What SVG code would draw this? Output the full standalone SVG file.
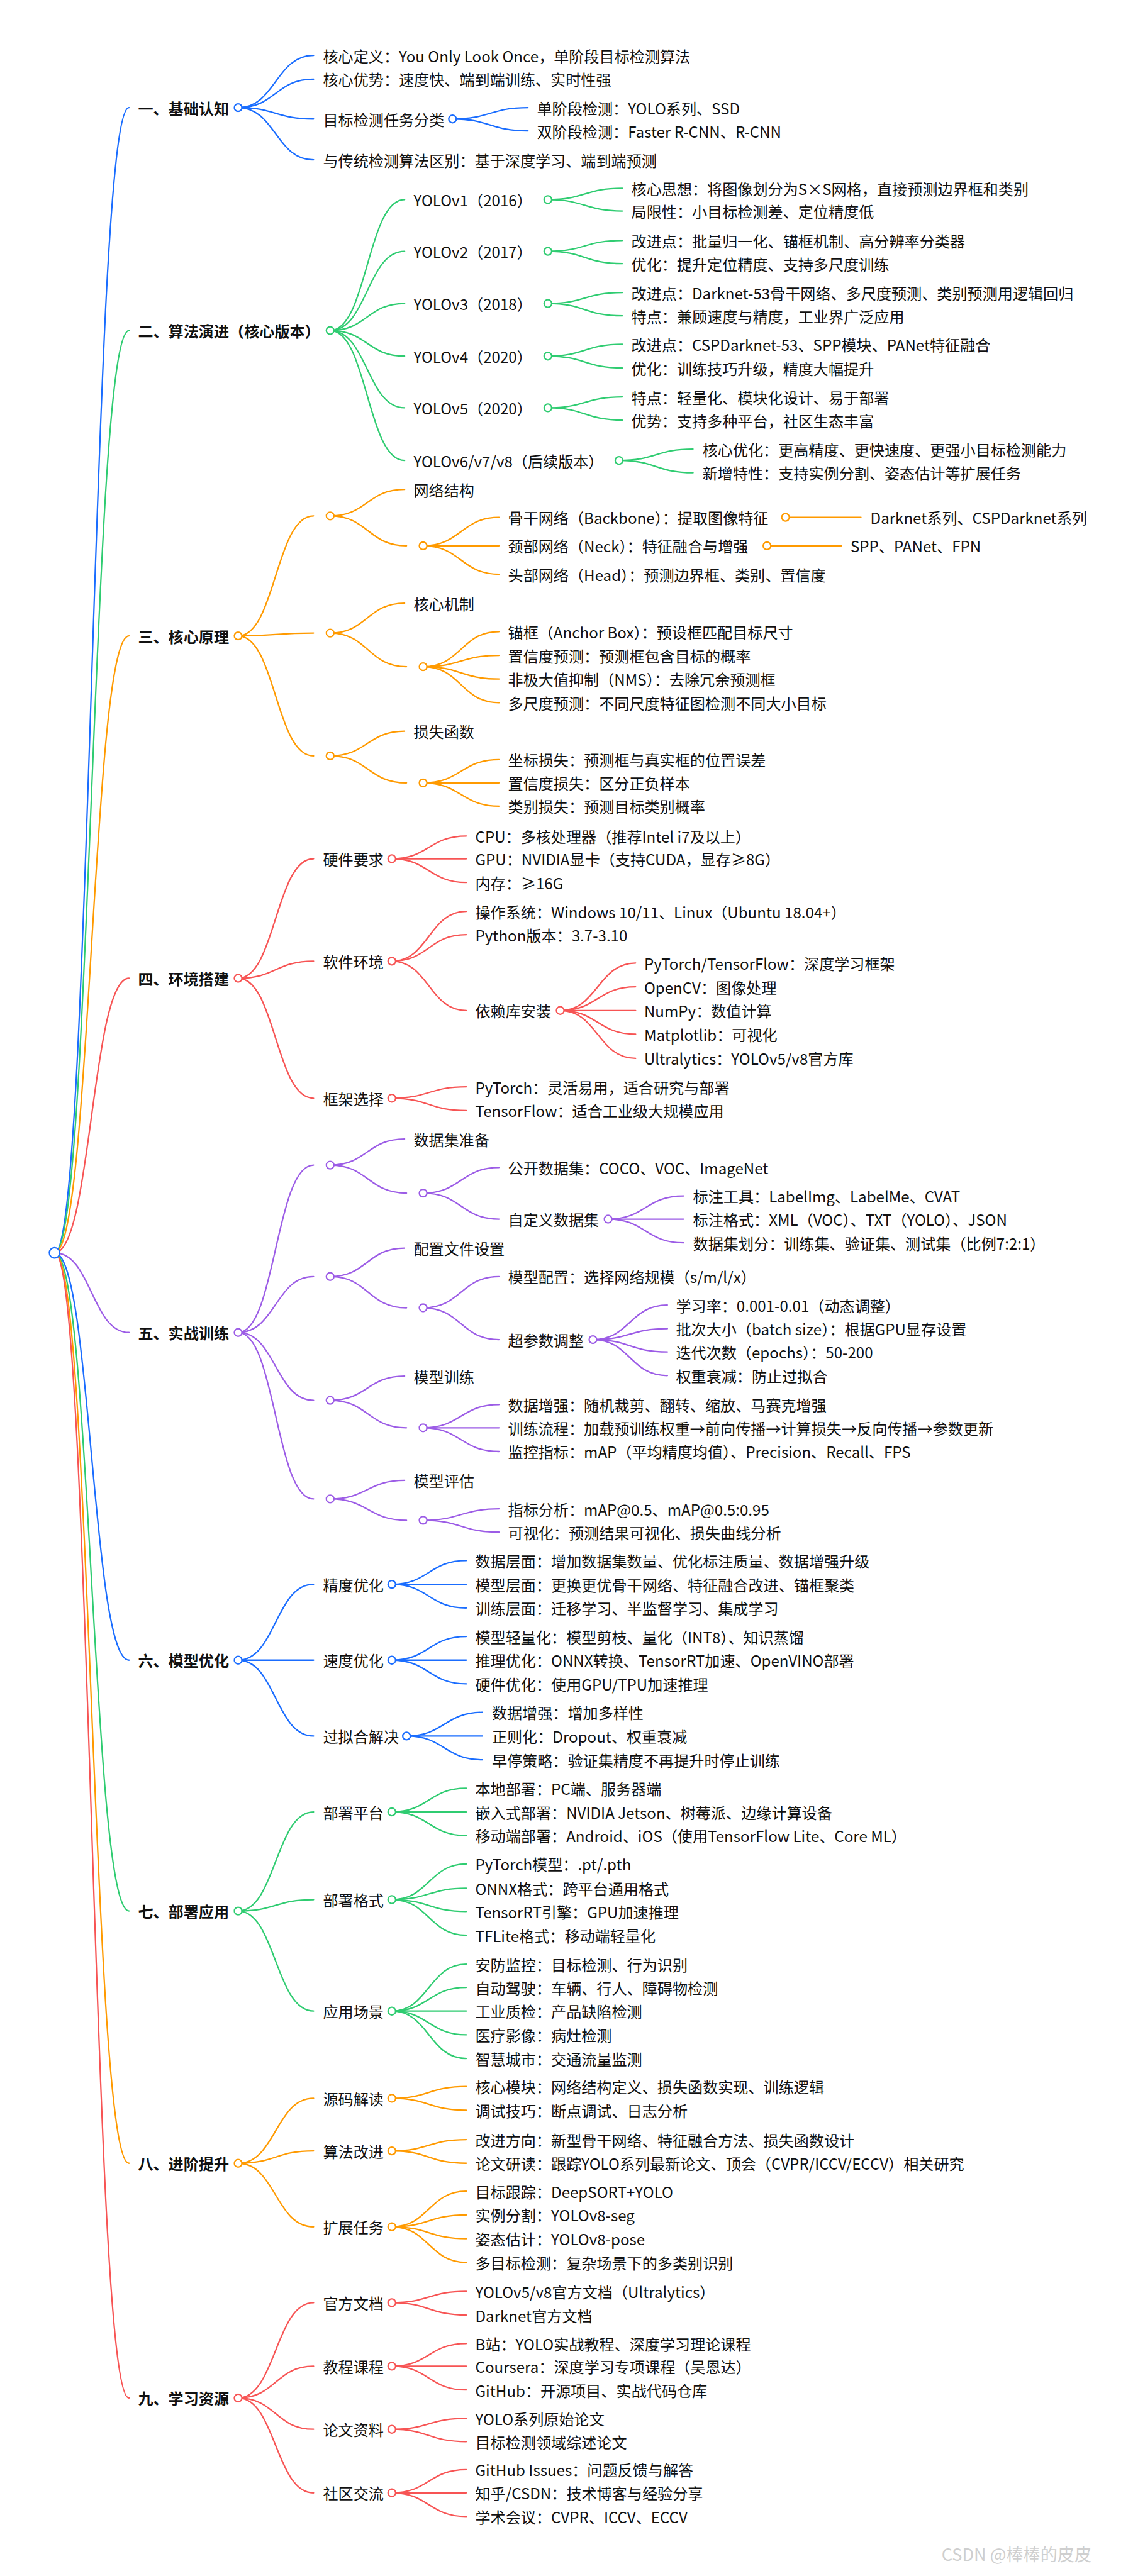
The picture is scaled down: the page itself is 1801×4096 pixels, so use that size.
<svg xmlns="http://www.w3.org/2000/svg" width="1801" height="4096" viewBox="0 0 1801 4096">
<style>
.t{font-family:"Noto Sans CJK SC","Noto Sans",sans-serif;font-size:32px;fill:#111;dominant-baseline:central}
.h{font-weight:bold}
.l{fill:none;stroke-width:3;stroke-linecap:round}
.c{fill:#fff;stroke-width:3}
.b{stroke:#1a6dff}.g{stroke:#2fcc71}.o{stroke:#ff9a00}.r{stroke:#f75454}.p{stroke:#9c5ce6}
.wm{font-family:"Noto Sans CJK SC","Noto Sans",sans-serif;font-size:36px;fill:#cfcfcf}
</style>
<rect width="1801" height="4096" fill="#fff"/>
<g transform="scale(0.754)">
<g id="connectors">
<!-- root links -->
<path class="l b" d="M115 2642C193 2642 193 227 272 227"/>
<path class="l g" d="M115 2642C193 2642 193 697 272 697"/>
<path class="l o" d="M115 2642C193 2642 193 1341 272 1341"/>
<path class="l r" d="M115 2642C193 2642 193 2063 272 2063"/>
<path class="l p" d="M115 2642C193 2642 193 2810 272 2810"/>
<path class="l b" d="M115 2642C193 2642 193 3501 272 3501"/>
<path class="l g" d="M115 2642C193 2642 193 4030 272 4030"/>
<path class="l o" d="M115 2642C193 2642 193 4562 272 4562"/>
<path class="l r" d="M115 2642C193 2642 193 5057 272 5057"/>
<!-- branch 1 -->
<path class="l b" d="M502 227C581 227 581 117 661 117"/>
<path class="l b" d="M502 227C581 227 581 167 661 167"/>
<path class="l b" d="M502 227C581 227 581 251 661 251"/>
<path class="l b" d="M502 227C581 227 581 337 661 337"/>
<path class="l b" d="M954 251C1033 251 1033 227 1113 227"/>
<path class="l b" d="M954 251C1033 251 1033 276 1113 276"/>
<!-- branch 2 -->
<path class="l g" d="M696 697C774 697 774 421 853 421"/>
<path class="l g" d="M696 697C774 697 774 530 853 530"/>
<path class="l g" d="M696 697C774 697 774 640 853 640"/>
<path class="l g" d="M696 697C774 697 774 751 853 751"/>
<path class="l g" d="M696 697C774 697 774 860 853 860"/>
<path class="l g" d="M696 697C774 697 774 971 853 971"/>
<path class="l g" d="M1155 421C1233 421 1233 397 1312 397"/>
<path class="l g" d="M1155 421C1233 421 1233 445 1312 445"/>
<path class="l g" d="M1155 530C1233 530 1233 507 1312 507"/>
<path class="l g" d="M1155 530C1233 530 1233 556 1312 556"/>
<path class="l g" d="M1155 640C1233 640 1233 617 1312 617"/>
<path class="l g" d="M1155 640C1233 640 1233 666 1312 666"/>
<path class="l g" d="M1155 751C1233 751 1233 726 1312 726"/>
<path class="l g" d="M1155 751C1233 751 1233 776 1312 776"/>
<path class="l g" d="M1155 860C1233 860 1233 837 1312 837"/>
<path class="l g" d="M1155 860C1233 860 1233 886 1312 886"/>
<path class="l g" d="M1305 971C1383 971 1383 947 1461 947"/>
<path class="l g" d="M1305 971C1383 971 1383 997 1461 997"/>
<!-- branch 3 -->
<path class="l o" d="M502 1341C581 1341 581 1088 661 1088"/>
<path class="l o" d="M502 1341C581 1341 581 1335 661 1335"/>
<path class="l o" d="M502 1341C581 1341 581 1594 661 1594"/>
<path class="l o" d="M696 1088C774 1088 774 1032 853 1032"/>
<path class="l o" d="M696 1088C776 1088 776 1151 857 1151"/>
<path class="l o" d="M892 1151C972 1151 972 1091 1052 1091"/>
<path class="l o" d="M892 1151C972 1151 972 1151 1052 1151"/>
<path class="l o" d="M892 1151C972 1151 972 1211 1052 1211"/>
<path class="l o" d="M1656 1091L1815 1091"/>
<path class="l o" d="M1617 1151L1774 1151"/>
<path class="l o" d="M696 1335C774 1335 774 1272 853 1272"/>
<path class="l o" d="M696 1335C776 1335 776 1406 857 1406"/>
<path class="l o" d="M892 1406C972 1406 972 1332 1052 1332"/>
<path class="l o" d="M892 1406C972 1406 972 1382 1052 1382"/>
<path class="l o" d="M892 1406C972 1406 972 1432 1052 1432"/>
<path class="l o" d="M892 1406C972 1406 972 1482 1052 1482"/>
<path class="l o" d="M696 1594C774 1594 774 1542 853 1542"/>
<path class="l o" d="M696 1594C776 1594 776 1651 857 1651"/>
<path class="l o" d="M892 1651C972 1651 972 1602 1052 1602"/>
<path class="l o" d="M892 1651C972 1651 972 1651 1052 1651"/>
<path class="l o" d="M892 1651C972 1651 972 1700 1052 1700"/>
<!-- branch 4 -->
<path class="l r" d="M502 2063C581 2063 581 1811 661 1811"/>
<path class="l r" d="M502 2063C581 2063 581 2027 661 2027"/>
<path class="l r" d="M502 2063C581 2063 581 2316 661 2316"/>
<path class="l r" d="M826 1811C904 1811 904 1763 983 1763"/>
<path class="l r" d="M826 1811C904 1811 904 1811 983 1811"/>
<path class="l r" d="M826 1811C904 1811 904 1861 983 1861"/>
<path class="l r" d="M826 2027C904 2027 904 1922 983 1922"/>
<path class="l r" d="M826 2027C904 2027 904 1971 983 1971"/>
<path class="l r" d="M826 2027C904 2027 904 2131 983 2131"/>
<path class="l r" d="M1181 2131C1260 2131 1260 2031 1340 2031"/>
<path class="l r" d="M1181 2131C1260 2131 1260 2081 1340 2081"/>
<path class="l r" d="M1181 2131C1260 2131 1260 2131 1340 2131"/>
<path class="l r" d="M1181 2131C1260 2131 1260 2181 1340 2181"/>
<path class="l r" d="M1181 2131C1260 2131 1260 2232 1340 2232"/>
<path class="l r" d="M826 2316C904 2316 904 2292 983 2292"/>
<path class="l r" d="M826 2316C904 2316 904 2342 983 2342"/>
<!-- branch 5 -->
<path class="l p" d="M502 2810C581 2810 581 2457 661 2457"/>
<path class="l p" d="M502 2810C581 2810 581 2692 661 2692"/>
<path class="l p" d="M502 2810C581 2810 581 2953 661 2953"/>
<path class="l p" d="M502 2810C581 2810 581 3161 661 3161"/>
<path class="l p" d="M696 2457C774 2457 774 2402 853 2402"/>
<path class="l p" d="M696 2457C776 2457 776 2516 857 2516"/>
<path class="l p" d="M892 2516C972 2516 972 2462 1052 2462"/>
<path class="l p" d="M892 2516C972 2516 972 2571 1052 2571"/>
<path class="l p" d="M1282 2571C1361 2571 1361 2522 1441 2522"/>
<path class="l p" d="M1282 2571C1361 2571 1361 2571 1441 2571"/>
<path class="l p" d="M1282 2571C1361 2571 1361 2621 1441 2621"/>
<path class="l p" d="M696 2692C774 2692 774 2632 853 2632"/>
<path class="l p" d="M696 2692C776 2692 776 2758 857 2758"/>
<path class="l p" d="M892 2758C972 2758 972 2692 1052 2692"/>
<path class="l p" d="M892 2758C972 2758 972 2825 1052 2825"/>
<path class="l p" d="M1250 2825C1328 2825 1328 2752 1407 2752"/>
<path class="l p" d="M1250 2825C1328 2825 1328 2802 1407 2802"/>
<path class="l p" d="M1250 2825C1328 2825 1328 2851 1407 2851"/>
<path class="l p" d="M1250 2825C1328 2825 1328 2901 1407 2901"/>
<path class="l p" d="M696 2953C774 2953 774 2902 853 2902"/>
<path class="l p" d="M696 2953C776 2953 776 3011 857 3011"/>
<path class="l p" d="M892 3011C972 3011 972 2962 1052 2962"/>
<path class="l p" d="M892 3011C972 3011 972 3011 1052 3011"/>
<path class="l p" d="M892 3011C972 3011 972 3061 1052 3061"/>
<path class="l p" d="M696 3161C774 3161 774 3122 853 3122"/>
<path class="l p" d="M696 3161C776 3161 776 3206 857 3206"/>
<path class="l p" d="M892 3206C972 3206 972 3182 1052 3182"/>
<path class="l p" d="M892 3206C972 3206 972 3231 1052 3231"/>
<!-- branch 6 -->
<path class="l b" d="M502 3501C581 3501 581 3341 661 3341"/>
<path class="l b" d="M502 3501C581 3501 581 3501 661 3501"/>
<path class="l b" d="M502 3501C581 3501 581 3661 661 3661"/>
<path class="l b" d="M826 3341C904 3341 904 3291 983 3291"/>
<path class="l b" d="M826 3341C904 3341 904 3341 983 3341"/>
<path class="l b" d="M826 3341C904 3341 904 3391 983 3391"/>
<path class="l b" d="M826 3501C904 3501 904 3451 983 3451"/>
<path class="l b" d="M826 3501C904 3501 904 3501 983 3501"/>
<path class="l b" d="M826 3501C904 3501 904 3551 983 3551"/>
<path class="l b" d="M857 3661C937 3661 937 3611 1017 3611"/>
<path class="l b" d="M857 3661C937 3661 937 3661 1017 3661"/>
<path class="l b" d="M857 3661C937 3661 937 3711 1017 3711"/>
<!-- branch 7 -->
<path class="l g" d="M502 4030C581 4030 581 3821 661 3821"/>
<path class="l g" d="M502 4030C581 4030 581 4006 661 4006"/>
<path class="l g" d="M502 4030C581 4030 581 4241 661 4241"/>
<path class="l g" d="M826 3821C904 3821 904 3771 983 3771"/>
<path class="l g" d="M826 3821C904 3821 904 3821 983 3821"/>
<path class="l g" d="M826 3821C904 3821 904 3871 983 3871"/>
<path class="l g" d="M826 4006C904 4006 904 3931 983 3931"/>
<path class="l g" d="M826 4006C904 4006 904 3982 983 3982"/>
<path class="l g" d="M826 4006C904 4006 904 4031 983 4031"/>
<path class="l g" d="M826 4006C904 4006 904 4081 983 4081"/>
<path class="l g" d="M826 4241C904 4241 904 4142 983 4142"/>
<path class="l g" d="M826 4241C904 4241 904 4191 983 4191"/>
<path class="l g" d="M826 4241C904 4241 904 4241 983 4241"/>
<path class="l g" d="M826 4241C904 4241 904 4291 983 4291"/>
<path class="l g" d="M826 4241C904 4241 904 4341 983 4341"/>
<!-- branch 8 -->
<path class="l o" d="M502 4562C581 4562 581 4425 661 4425"/>
<path class="l o" d="M502 4562C581 4562 581 4536 661 4536"/>
<path class="l o" d="M502 4562C581 4562 581 4696 661 4696"/>
<path class="l o" d="M826 4425C904 4425 904 4400 983 4400"/>
<path class="l o" d="M826 4425C904 4425 904 4450 983 4450"/>
<path class="l o" d="M826 4536C904 4536 904 4512 983 4512"/>
<path class="l o" d="M826 4536C904 4536 904 4562 983 4562"/>
<path class="l o" d="M826 4696C904 4696 904 4621 983 4621"/>
<path class="l o" d="M826 4696C904 4696 904 4671 983 4671"/>
<path class="l o" d="M826 4696C904 4696 904 4721 983 4721"/>
<path class="l o" d="M826 4696C904 4696 904 4771 983 4771"/>
<!-- branch 9 -->
<path class="l r" d="M502 5057C581 5057 581 4856 661 4856"/>
<path class="l r" d="M502 5057C581 5057 581 4990 661 4990"/>
<path class="l r" d="M502 5057C581 5057 581 5123 661 5123"/>
<path class="l r" d="M502 5057C581 5057 581 5257 661 5257"/>
<path class="l r" d="M826 4856C904 4856 904 4832 983 4832"/>
<path class="l r" d="M826 4856C904 4856 904 4882 983 4882"/>
<path class="l r" d="M826 4990C904 4990 904 4942 983 4942"/>
<path class="l r" d="M826 4990C904 4990 904 4990 983 4990"/>
<path class="l r" d="M826 4990C904 4990 904 5040 983 5040"/>
<path class="l r" d="M826 5123C904 5123 904 5100 983 5100"/>
<path class="l r" d="M826 5123C904 5123 904 5149 983 5149"/>
<path class="l r" d="M826 5257C904 5257 904 5208 983 5208"/>
<path class="l r" d="M826 5257C904 5257 904 5257 983 5257"/>
<path class="l r" d="M826 5257C904 5257 904 5307 983 5307"/>
</g>

<g id="root"><circle class="c b" cx="115" cy="2642" r="11" stroke-width="3.5"/></g>

<!-- Branch 1 -->
<g id="n1"><text class="t h" x="291" y="227">一、基础认知</text><circle class="c b" cx="502" cy="227" r="8"/></g>
<g id="n1-1"><text class="t" x="681" y="117">核心定义：You Only Look Once，单阶段目标检测算法</text></g>
<g id="n1-2"><text class="t" x="681" y="167">核心优势：速度快、端到端训练、实时性强</text></g>
<g id="n1-3"><text class="t" x="681" y="251">目标检测任务分类</text><circle class="c b" cx="954" cy="251" r="8"/></g>
<g id="n1-3-1"><text class="t" x="1132" y="227">单阶段检测：YOLO系列、SSD</text></g>
<g id="n1-3-2"><text class="t" x="1132" y="276">双阶段检测：Faster R-CNN、R-CNN</text></g>
<g id="n1-4"><text class="t" x="681" y="337">与传统检测算法区别：基于深度学习、端到端预测</text></g>

<!-- Branch 2 -->
<g id="n2"><text class="t h" x="291" y="697">二、算法演进（核心版本）</text><circle class="c g" cx="696" cy="697" r="8"/></g>
<g id="n2-1"><text class="t" x="872" y="421">YOLOv1（2016）</text><circle class="c g" cx="1155" cy="421" r="8"/></g>
<g id="n2-1-1"><text class="t" x="1331" y="397">核心思想：将图像划分为S×S网格，直接预测边界框和类别</text></g>
<g id="n2-1-2"><text class="t" x="1331" y="445">局限性：小目标检测差、定位精度低</text></g>
<g id="n2-2"><text class="t" x="872" y="530">YOLOv2（2017）</text><circle class="c g" cx="1155" cy="530" r="8"/></g>
<g id="n2-2-1"><text class="t" x="1331" y="507">改进点：批量归一化、锚框机制、高分辨率分类器</text></g>
<g id="n2-2-2"><text class="t" x="1331" y="556">优化：提升定位精度、支持多尺度训练</text></g>
<g id="n2-3"><text class="t" x="872" y="640">YOLOv3（2018）</text><circle class="c g" cx="1155" cy="640" r="8"/></g>
<g id="n2-3-1"><text class="t" x="1331" y="617">改进点：Darknet-53骨干网络、多尺度预测、类别预测用逻辑回归</text></g>
<g id="n2-3-2"><text class="t" x="1331" y="666">特点：兼顾速度与精度，工业界广泛应用</text></g>
<g id="n2-4"><text class="t" x="872" y="751">YOLOv4（2020）</text><circle class="c g" cx="1155" cy="751" r="8"/></g>
<g id="n2-4-1"><text class="t" x="1331" y="726">改进点：CSPDarknet-53、SPP模块、PANet特征融合</text></g>
<g id="n2-4-2"><text class="t" x="1331" y="776">优化：训练技巧升级，精度大幅提升</text></g>
<g id="n2-5"><text class="t" x="872" y="860">YOLOv5（2020）</text><circle class="c g" cx="1155" cy="860" r="8"/></g>
<g id="n2-5-1"><text class="t" x="1331" y="837">特点：轻量化、模块化设计、易于部署</text></g>
<g id="n2-5-2"><text class="t" x="1331" y="886">优势：支持多种平台，社区生态丰富</text></g>
<g id="n2-6"><text class="t" x="872" y="971">YOLOv6/v7/v8（后续版本）</text><circle class="c g" cx="1305" cy="971" r="8"/></g>
<g id="n2-6-1"><text class="t" x="1481" y="947">核心优化：更高精度、更快速度、更强小目标检测能力</text></g>
<g id="n2-6-2"><text class="t" x="1481" y="997">新增特性：支持实例分割、姿态估计等扩展任务</text></g>

<!-- Branch 3 -->
<g id="n3"><text class="t h" x="291" y="1341">三、核心原理</text><circle class="c o" cx="502" cy="1341" r="8"/></g>
<g id="n3-a"><circle class="c o" cx="696" cy="1088" r="8"/></g>
<g id="n3-a-1"><text class="t" x="872" y="1032">网络结构</text></g>
<g id="n3-a-2"><circle class="c o" cx="892" cy="1151" r="8"/></g>
<g id="n3-a-2-1"><text class="t" x="1071" y="1091">骨干网络（Backbone）：提取图像特征</text><circle class="c o" cx="1656" cy="1091" r="8"/></g>
<g id="n3-a-2-1-1"><text class="t" x="1835" y="1091">Darknet系列、CSPDarknet系列</text></g>
<g id="n3-a-2-2"><text class="t" x="1071" y="1151">颈部网络（Neck）：特征融合与增强</text><circle class="c o" cx="1617" cy="1151" r="8"/></g>
<g id="n3-a-2-2-1"><text class="t" x="1793" y="1151">SPP、PANet、FPN</text></g>
<g id="n3-a-2-3"><text class="t" x="1071" y="1211">头部网络（Head）：预测边界框、类别、置信度</text></g>
<g id="n3-b"><circle class="c o" cx="696" cy="1335" r="8"/></g>
<g id="n3-b-1"><text class="t" x="872" y="1272">核心机制</text></g>
<g id="n3-b-2"><circle class="c o" cx="892" cy="1406" r="8"/></g>
<g id="n3-b-2-1"><text class="t" x="1071" y="1332">锚框（Anchor Box）：预设框匹配目标尺寸</text></g>
<g id="n3-b-2-2"><text class="t" x="1071" y="1382">置信度预测：预测框包含目标的概率</text></g>
<g id="n3-b-2-3"><text class="t" x="1071" y="1432">非极大值抑制（NMS）：去除冗余预测框</text></g>
<g id="n3-b-2-4"><text class="t" x="1071" y="1482">多尺度预测：不同尺度特征图检测不同大小目标</text></g>
<g id="n3-c"><circle class="c o" cx="696" cy="1594" r="8"/></g>
<g id="n3-c-1"><text class="t" x="872" y="1542">损失函数</text></g>
<g id="n3-c-2"><circle class="c o" cx="892" cy="1651" r="8"/></g>
<g id="n3-c-2-1"><text class="t" x="1071" y="1602">坐标损失：预测框与真实框的位置误差</text></g>
<g id="n3-c-2-2"><text class="t" x="1071" y="1651">置信度损失：区分正负样本</text></g>
<g id="n3-c-2-3"><text class="t" x="1071" y="1700">类别损失：预测目标类别概率</text></g>

<!-- Branch 4 -->
<g id="n4"><text class="t h" x="291" y="2063">四、环境搭建</text><circle class="c r" cx="502" cy="2063" r="8"/></g>
<g id="n4-1"><text class="t" x="681" y="1811">硬件要求</text><circle class="c r" cx="826" cy="1811" r="8"/></g>
<g id="n4-1-1"><text class="t" x="1002" y="1763">CPU：多核处理器（推荐Intel i7及以上）</text></g>
<g id="n4-1-2"><text class="t" x="1002" y="1811">GPU：NVIDIA显卡（支持CUDA，显存≥8G）</text></g>
<g id="n4-1-3"><text class="t" x="1002" y="1861">内存：≥16G</text></g>
<g id="n4-2"><text class="t" x="681" y="2027">软件环境</text><circle class="c r" cx="826" cy="2027" r="8"/></g>
<g id="n4-2-1"><text class="t" x="1002" y="1922">操作系统：Windows 10/11、Linux（Ubuntu 18.04+）</text></g>
<g id="n4-2-2"><text class="t" x="1002" y="1971">Python版本：3.7-3.10</text></g>
<g id="n4-2-3"><text class="t" x="1002" y="2131">依赖库安装</text><circle class="c r" cx="1181" cy="2131" r="8"/></g>
<g id="n4-2-3-1"><text class="t" x="1358" y="2031">PyTorch/TensorFlow：深度学习框架</text></g>
<g id="n4-2-3-2"><text class="t" x="1358" y="2081">OpenCV：图像处理</text></g>
<g id="n4-2-3-3"><text class="t" x="1358" y="2131">NumPy：数值计算</text></g>
<g id="n4-2-3-4"><text class="t" x="1358" y="2181">Matplotlib：可视化</text></g>
<g id="n4-2-3-5"><text class="t" x="1358" y="2232">Ultralytics：YOLOv5/v8官方库</text></g>
<g id="n4-3"><text class="t" x="681" y="2316">框架选择</text><circle class="c r" cx="826" cy="2316" r="8"/></g>
<g id="n4-3-1"><text class="t" x="1002" y="2292">PyTorch：灵活易用，适合研究与部署</text></g>
<g id="n4-3-2"><text class="t" x="1002" y="2342">TensorFlow：适合工业级大规模应用</text></g>

<!-- Branch 5 -->
<g id="n5"><text class="t h" x="291" y="2810">五、实战训练</text><circle class="c p" cx="502" cy="2810" r="8"/></g>
<g id="n5-a"><circle class="c p" cx="696" cy="2457" r="8"/></g>
<g id="n5-a-1"><text class="t" x="872" y="2402">数据集准备</text></g>
<g id="n5-a-2"><circle class="c p" cx="892" cy="2516" r="8"/></g>
<g id="n5-a-2-1"><text class="t" x="1071" y="2462">公开数据集：COCO、VOC、ImageNet</text></g>
<g id="n5-a-2-2"><text class="t" x="1071" y="2571">自定义数据集</text><circle class="c p" cx="1282" cy="2571" r="8"/></g>
<g id="n5-a-2-2-1"><text class="t" x="1461" y="2522">标注工具：LabelImg、LabelMe、CVAT</text></g>
<g id="n5-a-2-2-2"><text class="t" x="1461" y="2571">标注格式：XML（VOC）、TXT（YOLO）、JSON</text></g>
<g id="n5-a-2-2-3"><text class="t" x="1461" y="2621">数据集划分：训练集、验证集、测试集（比例7:2:1）</text></g>
<g id="n5-b"><circle class="c p" cx="696" cy="2692" r="8"/></g>
<g id="n5-b-1"><text class="t" x="872" y="2632">配置文件设置</text></g>
<g id="n5-b-2"><circle class="c p" cx="892" cy="2758" r="8"/></g>
<g id="n5-b-2-1"><text class="t" x="1071" y="2692">模型配置：选择网络规模（s/m/l/x）</text></g>
<g id="n5-b-2-2"><text class="t" x="1071" y="2825">超参数调整</text><circle class="c p" cx="1250" cy="2825" r="8"/></g>
<g id="n5-b-2-2-1"><text class="t" x="1425" y="2752">学习率：0.001-0.01（动态调整）</text></g>
<g id="n5-b-2-2-2"><text class="t" x="1425" y="2802">批次大小（batch size）：根据GPU显存设置</text></g>
<g id="n5-b-2-2-3"><text class="t" x="1425" y="2851">迭代次数（epochs）：50-200</text></g>
<g id="n5-b-2-2-4"><text class="t" x="1425" y="2901">权重衰减：防止过拟合</text></g>
<g id="n5-c"><circle class="c p" cx="696" cy="2953" r="8"/></g>
<g id="n5-c-1"><text class="t" x="872" y="2902">模型训练</text></g>
<g id="n5-c-2"><circle class="c p" cx="892" cy="3011" r="8"/></g>
<g id="n5-c-2-1"><text class="t" x="1071" y="2962">数据增强：随机裁剪、翻转、缩放、马赛克增强</text></g>
<g id="n5-c-2-2"><text class="t" x="1071" y="3011">训练流程：加载预训练权重→前向传播→计算损失→反向传播→参数更新</text></g>
<g id="n5-c-2-3"><text class="t" x="1071" y="3061">监控指标：mAP（平均精度均值）、Precision、Recall、FPS</text></g>
<g id="n5-d"><circle class="c p" cx="696" cy="3161" r="8"/></g>
<g id="n5-d-1"><text class="t" x="872" y="3122">模型评估</text></g>
<g id="n5-d-2"><circle class="c p" cx="892" cy="3206" r="8"/></g>
<g id="n5-d-2-1"><text class="t" x="1071" y="3182">指标分析：mAP@0.5、mAP@0.5:0.95</text></g>
<g id="n5-d-2-2"><text class="t" x="1071" y="3231">可视化：预测结果可视化、损失曲线分析</text></g>

<!-- Branch 6 -->
<g id="n6"><text class="t h" x="291" y="3501">六、模型优化</text><circle class="c b" cx="502" cy="3501" r="8"/></g>
<g id="n6-1"><text class="t" x="681" y="3341">精度优化</text><circle class="c b" cx="826" cy="3341" r="8"/></g>
<g id="n6-1-1"><text class="t" x="1002" y="3291">数据层面：增加数据集数量、优化标注质量、数据增强升级</text></g>
<g id="n6-1-2"><text class="t" x="1002" y="3341">模型层面：更换更优骨干网络、特征融合改进、锚框聚类</text></g>
<g id="n6-1-3"><text class="t" x="1002" y="3391">训练层面：迁移学习、半监督学习、集成学习</text></g>
<g id="n6-2"><text class="t" x="681" y="3501">速度优化</text><circle class="c b" cx="826" cy="3501" r="8"/></g>
<g id="n6-2-1"><text class="t" x="1002" y="3451">模型轻量化：模型剪枝、量化（INT8）、知识蒸馏</text></g>
<g id="n6-2-2"><text class="t" x="1002" y="3501">推理优化：ONNX转换、TensorRT加速、OpenVINO部署</text></g>
<g id="n6-2-3"><text class="t" x="1002" y="3551">硬件优化：使用GPU/TPU加速推理</text></g>
<g id="n6-3"><text class="t" x="681" y="3661">过拟合解决</text><circle class="c b" cx="857" cy="3661" r="8"/></g>
<g id="n6-3-1"><text class="t" x="1037" y="3611">数据增强：增加多样性</text></g>
<g id="n6-3-2"><text class="t" x="1037" y="3661">正则化：Dropout、权重衰减</text></g>
<g id="n6-3-3"><text class="t" x="1037" y="3711">早停策略：验证集精度不再提升时停止训练</text></g>

<!-- Branch 7 -->
<g id="n7"><text class="t h" x="291" y="4030">七、部署应用</text><circle class="c g" cx="502" cy="4030" r="8"/></g>
<g id="n7-1"><text class="t" x="681" y="3821">部署平台</text><circle class="c g" cx="826" cy="3821" r="8"/></g>
<g id="n7-1-1"><text class="t" x="1002" y="3771">本地部署：PC端、服务器端</text></g>
<g id="n7-1-2"><text class="t" x="1002" y="3821">嵌入式部署：NVIDIA Jetson、树莓派、边缘计算设备</text></g>
<g id="n7-1-3"><text class="t" x="1002" y="3871">移动端部署：Android、iOS（使用TensorFlow Lite、Core ML）</text></g>
<g id="n7-2"><text class="t" x="681" y="4006">部署格式</text><circle class="c g" cx="826" cy="4006" r="8"/></g>
<g id="n7-2-1"><text class="t" x="1002" y="3931">PyTorch模型：.pt/.pth</text></g>
<g id="n7-2-2"><text class="t" x="1002" y="3982">ONNX格式：跨平台通用格式</text></g>
<g id="n7-2-3"><text class="t" x="1002" y="4031">TensorRT引擎：GPU加速推理</text></g>
<g id="n7-2-4"><text class="t" x="1002" y="4081">TFLite格式：移动端轻量化</text></g>
<g id="n7-3"><text class="t" x="681" y="4241">应用场景</text><circle class="c g" cx="826" cy="4241" r="8"/></g>
<g id="n7-3-1"><text class="t" x="1002" y="4142">安防监控：目标检测、行为识别</text></g>
<g id="n7-3-2"><text class="t" x="1002" y="4191">自动驾驶：车辆、行人、障碍物检测</text></g>
<g id="n7-3-3"><text class="t" x="1002" y="4241">工业质检：产品缺陷检测</text></g>
<g id="n7-3-4"><text class="t" x="1002" y="4291">医疗影像：病灶检测</text></g>
<g id="n7-3-5"><text class="t" x="1002" y="4341">智慧城市：交通流量监测</text></g>

<!-- Branch 8 -->
<g id="n8"><text class="t h" x="291" y="4562">八、进阶提升</text><circle class="c o" cx="502" cy="4562" r="8"/></g>
<g id="n8-1"><text class="t" x="681" y="4425">源码解读</text><circle class="c o" cx="826" cy="4425" r="8"/></g>
<g id="n8-1-1"><text class="t" x="1002" y="4400">核心模块：网络结构定义、损失函数实现、训练逻辑</text></g>
<g id="n8-1-2"><text class="t" x="1002" y="4450">调试技巧：断点调试、日志分析</text></g>
<g id="n8-2"><text class="t" x="681" y="4536">算法改进</text><circle class="c o" cx="826" cy="4536" r="8"/></g>
<g id="n8-2-1"><text class="t" x="1002" y="4512">改进方向：新型骨干网络、特征融合方法、损失函数设计</text></g>
<g id="n8-2-2"><text class="t" x="1002" y="4562">论文研读：跟踪YOLO系列最新论文、顶会（CVPR/ICCV/ECCV）相关研究</text></g>
<g id="n8-3"><text class="t" x="681" y="4696">扩展任务</text><circle class="c o" cx="826" cy="4696" r="8"/></g>
<g id="n8-3-1"><text class="t" x="1002" y="4621">目标跟踪：DeepSORT+YOLO</text></g>
<g id="n8-3-2"><text class="t" x="1002" y="4671">实例分割：YOLOv8-seg</text></g>
<g id="n8-3-3"><text class="t" x="1002" y="4721">姿态估计：YOLOv8-pose</text></g>
<g id="n8-3-4"><text class="t" x="1002" y="4771">多目标检测：复杂场景下的多类别识别</text></g>

<!-- Branch 9 -->
<g id="n9"><text class="t h" x="291" y="5057">九、学习资源</text><circle class="c r" cx="502" cy="5057" r="8"/></g>
<g id="n9-1"><text class="t" x="681" y="4856">官方文档</text><circle class="c r" cx="826" cy="4856" r="8"/></g>
<g id="n9-1-1"><text class="t" x="1002" y="4832">YOLOv5/v8官方文档（Ultralytics）</text></g>
<g id="n9-1-2"><text class="t" x="1002" y="4882">Darknet官方文档</text></g>
<g id="n9-2"><text class="t" x="681" y="4990">教程课程</text><circle class="c r" cx="826" cy="4990" r="8"/></g>
<g id="n9-2-1"><text class="t" x="1002" y="4942">B站：YOLO实战教程、深度学习理论课程</text></g>
<g id="n9-2-2"><text class="t" x="1002" y="4990">Coursera：深度学习专项课程（吴恩达）</text></g>
<g id="n9-2-3"><text class="t" x="1002" y="5040">GitHub：开源项目、实战代码仓库</text></g>
<g id="n9-3"><text class="t" x="681" y="5123">论文资料</text><circle class="c r" cx="826" cy="5123" r="8"/></g>
<g id="n9-3-1"><text class="t" x="1002" y="5100">YOLO系列原始论文</text></g>
<g id="n9-3-2"><text class="t" x="1002" y="5149">目标检测领域综述论文</text></g>
<g id="n9-4"><text class="t" x="681" y="5257">社区交流</text><circle class="c r" cx="826" cy="5257" r="8"/></g>
<g id="n9-4-1"><text class="t" x="1002" y="5208">GitHub Issues：问题反馈与解答</text></g>
<g id="n9-4-2"><text class="t" x="1002" y="5257">知乎/CSDN：技术博客与经验分享</text></g>
<g id="n9-4-3"><text class="t" x="1002" y="5307">学术会议：CVPR、ICCV、ECCV</text></g>

<text class="wm" x="1985" y="5400">CSDN @棒棒的皮皮</text>
</g>
</svg>
